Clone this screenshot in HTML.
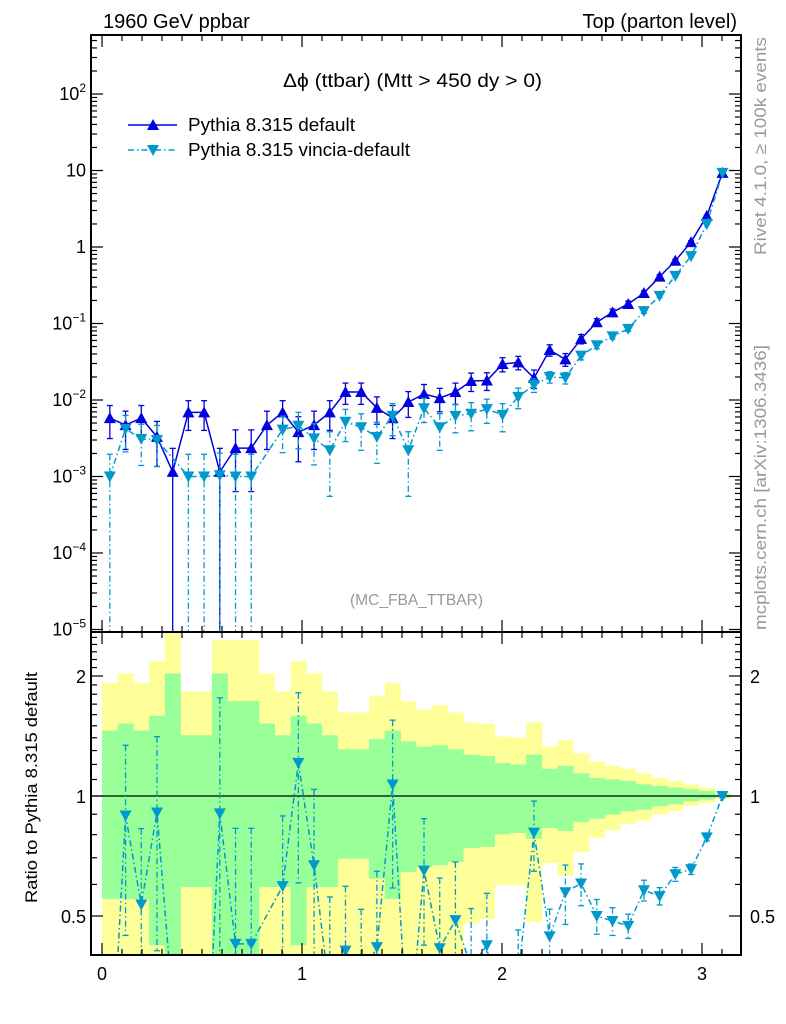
<!DOCTYPE html>
<html><head><meta charset="utf-8"><style>
html,body{margin:0;padding:0;background:#fff;overflow:hidden;width:786px;height:1024px}
svg{display:block}
svg text{font-family:"Liberation Sans",sans-serif}
</style></head><body>
<svg id="chart" width="786" height="1024" viewBox="0 0 786 1024" xmlns="http://www.w3.org/2000/svg">
<rect x="0" y="0" width="786" height="1024" fill="#fff"/>
<g id="bands"></g>
<g id="marks"></g>
<g id="axes"></g>
<text x="103" y="28" font-size="20">1960 GeV ppbar</text>
<text x="737" y="28" font-size="20" text-anchor="end">Top (parton level)</text>
<text x="283" y="87" font-size="19" textLength="259" lengthAdjust="spacingAndGlyphs">Δϕ (ttbar) (Mtt &gt; 450 dy &gt; 0)</text>
<text x="350" y="605" font-size="16" textLength="133" lengthAdjust="spacingAndGlyphs" fill="#999">(MC_FBA_TTBAR)</text>
<text transform="translate(766,255) rotate(-90)" font-size="17" textLength="218" lengthAdjust="spacingAndGlyphs" fill="#999">Rivet 4.1.0, ≥ 100k events</text>
<text transform="translate(766,630) rotate(-90)" font-size="17" textLength="285" lengthAdjust="spacingAndGlyphs" fill="#999">mcplots.cern.ch [arXiv:1306.3436]</text>
<text transform="translate(37,903) rotate(-90)" font-size="17" textLength="231" lengthAdjust="spacingAndGlyphs">Ratio to Pythia 8.315 default</text>
<g>
<g>
<line x1="128" y1="125" x2="177" y2="125" stroke="#0000e0" stroke-width="1.5"/>
<polygon points="153,119 159,130 147,130" fill="#0000e0"/>
<text x="188" y="131" font-size="18" textLength="167" lengthAdjust="spacingAndGlyphs">Pythia 8.315 default</text></g>
<g>
<line x1="128" y1="150" x2="177" y2="150" stroke="#0099cc" stroke-width="1.5" stroke-dasharray="6,3,1.5,3"/>
<polygon points="147,145 159,145 153,156" fill="#0099cc"/>
<text x="188" y="156" font-size="18" textLength="222" lengthAdjust="spacingAndGlyphs">Pythia 8.315 vincia-default</text></g>
</g>
</svg>
<script>
const defVals=[5.8e-3,4.7e-3,5.8e-3,3.3e-3,1.15e-3,6.9e-3,6.9e-3,1.15e-3,2.35e-3,2.35e-3,4.7e-3,6.9e-3,3.8e-3,4.7e-3,6.9e-3,1.27e-2,1.27e-2,7.9e-3,5.8e-3,9.4e-3,1.2e-2,1.06e-2,1.27e-2,1.77e-2,1.8e-2,2.95e-2,3.1e-2,1.94e-2,4.5e-2,3.4e-2,6.3e-2,0.104,0.14,0.18,0.25,0.41,0.66,1.16,2.54,9.3];
const vinVals=[1.0e-3,4.2e-3,3.1e-3,3.0e-3,0,1.0e-3,1.0e-3,1.04e-3,1.0e-3,1.0e-3,null,4.1e-3,4.6e-3,3.15e-3,2.2e-3,5.2e-3,4.4e-3,3.3e-3,6.2e-3,2.2e-3,7.8e-3,4.4e-3,6.2e-3,6.6e-3,7.6e-3,6.4e-3,1.1e-2,1.57e-2,2.0e-2,1.95e-2,3.8e-2,5.2e-2,6.8e-2,8.5e-2,0.145,0.23,0.42,0.76,2.0,9.3];
const vinErr=[0.95,0.5,0.55,0.55,0,0.95,0.95,0.95,0.95,0.95,0,0.5,0.5,0.55,0.75,0.45,0.5,0.55,0.45,0.75,0.35,0.5,0.4,0.4,0.35,0.4,0.3,0.2,0.17,0.17,0.12,0.1,0.08,0.07,0.06,0.05,0.04,0.03,0.02,0.01];
const greenUp=[1.46,1.52,1.46,1.59,2.03,1.42,1.42,2.03,1.73,1.73,1.52,1.42,1.59,1.52,1.42,1.31,1.31,1.39,1.46,1.37,1.33,1.34,1.31,1.27,1.26,1.21,1.20,1.27,1.17,1.19,1.14,1.11,1.10,1.09,1.07,1.06,1.05,1.04,1.03,1.01];
const greenDn=[0.552,0.552,0.552,0.422,0.3,0.591,0.591,0.3,0.4,0.4,0.591,0.591,0.422,0.591,0.591,0.696,0.696,0.62,0.552,0.645,0.664,0.67,0.683,0.74,0.745,0.801,0.808,0.781,0.831,0.817,0.86,0.877,0.898,0.915,0.924,0.942,0.953,0.97,0.98,0.99];
const yellowUp=[1.92,2.03,1.92,2.18,2.6,1.83,1.83,2.46,2.46,2.46,2.03,1.83,2.18,2.03,1.83,1.62,1.62,1.78,1.92,1.73,1.65,1.69,1.62,1.53,1.52,1.41,1.40,1.53,1.33,1.38,1.28,1.22,1.19,1.17,1.14,1.11,1.09,1.07,1.05,1.02];
const yellowDn=[0.3,0.3,0.3,0.3,0.3,0.3,0.3,0.3,0.3,0.3,0.3,0.3,0.3,0.3,0.3,0.3,0.3,0.3,0.3,0.3,0.3,0.3,0.3,0.479,0.492,0.597,0.597,0.483,0.679,0.632,0.724,0.786,0.82,0.852,0.869,0.898,0.917,0.944,0.96,0.985];
const xTicks=[0,1,2,3];
const mainYTicks=[-5,-4,-3,-2,-1,0,1,2];
const ratioYTicks=[0.5,1,2];

const NS="http://www.w3.org/2000/svg";
const L=91,R=741,T=35,MB=632,RB=955;
const nb=defVals.length, bw=Math.PI/nb;
const X=v=>102+200*v;
const Ym=v=>400-76.5*(Math.log10(v)+2);
const Yr=r=>796-398.6*Math.log10(r);
const clipM=y=>Math.max(T,Math.min(MB,y));
const clipR=y=>Math.max(MB,Math.min(RB,y));
function mk(tag,attrs,parent){const e=document.createElementNS(NS,tag);for(const k in attrs)e.setAttribute(k,attrs[k]);parent.appendChild(e);return e;}
const bands=document.getElementById('bands'),marks=document.getElementById('marks'),axes=document.getElementById('axes');

for(let i=0;i<nb;i++){
  const x0=X(i*bw),x1=X((i+1)*bw);
  const y1=clipR(Yr(yellowUp[i])),y2=clipR(Yr(yellowDn[i]));
  const r=mk('rect',{x:x0,y:y1,width:x1-x0+0.3,height:y2-y1,fill:'#ffff99'},bands);
  
  
}
for(let i=0;i<nb;i++){
  const x0=X(i*bw),x1=X((i+1)*bw);
  const y1=clipR(Yr(greenUp[i])),y2=clipR(Yr(greenDn[i]));
  const r=mk('rect',{x:x0,y:y1,width:x1-x0+0.3,height:y2-y1,fill:'#99ff99'},bands);
  
  
}
const one=mk('line',{x1:L,x2:R,y1:Yr(1),y2:Yr(1),stroke:'#000','stroke-width':1.2},marks);



function tri(g,x,y,up,col){
  const p=up?`${x},${y-6} ${x+6},${y+5} ${x-6},${y+5}`:`${x-6},${y-5} ${x+6},${y-5} ${x},${y+6}`;
  mk('polygon',{points:p,fill:col},g);
}
function errbar(g,x,ya,yb,col,dash){
  const a={x1:x,x2:x,y1:ya,y2:yb,stroke:col,'stroke-width':1.3};
  if(dash)a['stroke-dasharray']=dash;
  mk('line',a,g);
  mk('line',{x1:x-3,x2:x+3,y1:ya,y2:ya,stroke:col,'stroke-width':1.3},g);
  if(yb<RB-1&&yb<MB-1||(yb<RB-1&&ya>=MB)) mk('line',{x1:x-3,x2:x+3,y1:yb,y2:yb,stroke:col,'stroke-width':1.3},g);
}
const gDef=document.createElementNS(NS,'g');


marks.appendChild(gDef);
let pts=[];
for(let i=0;i<nb;i++){const v=defVals[i];if(!v)continue;const x=X((i+0.5)*bw);pts.push(x+','+Ym(v));
  const up=v*greenUp[i],dn=v*(2-greenUp[i]);
  errbar(gDef,x,clipM(Ym(up)),dn>0?clipM(Ym(dn)):MB,'#0000e0');}
mk('polyline',{points:pts.join(' '),fill:'none',stroke:'#0000e0','stroke-width':1.5},gDef);
for(let i=0;i<nb;i++){const v=defVals[i];if(!v)continue;tri(gDef,X((i+0.5)*bw),Ym(v),true,'#0000e0');}
const gVin=document.createElementNS(NS,'g');


marks.appendChild(gVin);
pts=[];
const DASH='6,3,1.5,3';
for(let i=0;i<nb;i++){const v=vinVals[i];if(!v)continue;const x=X((i+0.5)*bw);pts.push(x+','+Ym(v));
  const up=v*(1+vinErr[i]),dn=v*(1-vinErr[i]);
  errbar(gVin,x,clipM(Ym(up)),dn>v*0.08?clipM(Ym(dn)):MB,'#0099cc',DASH);}
mk('polyline',{points:pts.join(' '),fill:'none',stroke:'#0099cc','stroke-width':1.5,'stroke-dasharray':DASH},gVin);
for(let i=0;i<nb;i++){const v=vinVals[i];if(!v)continue;tri(gVin,X((i+0.5)*bw),Ym(v),false,'#0099cc');}
const gRat=document.createElementNS(NS,'g');


marks.appendChild(gRat);
const cp=mk('clipPath',{id:'rc'},gRat);mk('rect',{x:L,y:MB,width:R-L,height:RB-MB},cp);
const gRi=mk('g',{'clip-path':'url(#rc)'},gRat);
pts=[];
for(let i=0;i<nb;i++){const v=vinVals[i];if(v===null)continue;const x=X((i+0.5)*bw);
  const r=v/defVals[i];const y=r>0?Yr(r):RB+50;pts.push(x+','+y);
  if(r>0.3){const up=r*(1+vinErr[i]),dn=r*(1-vinErr[i]);
    errbar(gRi,x,clipR(Yr(up)),dn>0.05?clipR(Yr(dn)):RB,'#0099cc',DASH);
    if(r>0.38)tri(gRi,x,y,false,'#0099cc');}}
mk('polyline',{points:pts.join(' '),fill:'none',stroke:'#0099cc','stroke-width':1.5,'stroke-dasharray':DASH},gRi);

mk('rect',{x:L,y:T,width:R-L,height:MB-T,fill:'none',stroke:'#000','stroke-width':2},axes);
mk('rect',{x:L,y:MB,width:R-L,height:RB-MB,fill:'none',stroke:'#000','stroke-width':2},axes);
function tk(x1,y1,x2,y2){mk('line',{x1,y1,x2,y2,stroke:'#000','stroke-width':1.2},axes);}
for(let k=0;k<=31;k++){const v=k/10,x=X(v);const maj=(k%10===0);const len=maj?12:6;
  [T,MB].forEach(y=>tk(x,y,x,y+len));[MB,RB].forEach(y=>tk(x,y,x,y-len));}
xTicks.forEach(v=>{const t=mk('text',{x:X(v),y:980,'font-size':18,'text-anchor':'middle'},axes);t.textContent=String(v);
  
  });
for(let d=-6;d<=2;d++){for(let m=1;m<=9;m++){const v=m*Math.pow(10,d);const y=Ym(v);if(y<T||y>MB)continue;const len=m===1?12:6;
  tk(L,y,L+len,y);tk(R,y,R-len,y);}}
mainYTicks.forEach(d=>{const y=Ym(Math.pow(10,d));
  const t=mk('text',{x:86,y:y+6,'font-size':18,'text-anchor':'end'},axes);
  
  
  if(d===0)t.textContent='1';else if(d===1)t.textContent='10';
  else{t.textContent='10';const s=mk('tspan',{'font-size':12,dy:-8},t);s.textContent=d<0?'−'+(-d):String(d);}});
for(let k=3;k<=26;k++){const r=k/10;const y=Yr(r);if(y<MB||y>RB)continue;const maj=(k===5||k===10||k===20);const len=maj?12:6;
  tk(L,y,L+len,y);tk(R,y,R-len,y);}
ratioYTicks.forEach(r=>{const y=Yr(r);
  const t=mk('text',{x:86,y:y+7,'font-size':18,'text-anchor':'end'},axes);t.textContent=String(r);
  
  
  const t2=mk('text',{x:750,y:y+7,'font-size':18},axes);t2.textContent=String(r);
  
  });
</script>
</body></html>
